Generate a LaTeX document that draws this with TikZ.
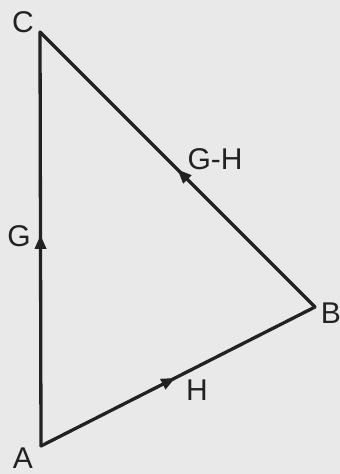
\documentclass[tikz,border=0pt]{standalone}
\usepackage{fontspec}
\setmainfont{Liberation Sans}
\usetikzlibrary{decorations.markings,arrows.meta}
\definecolor{paper}{RGB}{233,233,233}
\definecolor{ink}{RGB}{34,34,34}

\begin{document}
\begin{tikzpicture}[x=1pt,y=-1pt,
  side/.style={draw=ink, line width=3.3pt, line cap=round, line join=miter},
  midarrow/.style={postaction={decorate}, decoration={markings,
    mark=at position #1 with {\arrow{Triangle[length=14pt,width=11pt]}}}},
  lbl/.style={text=ink, font=\fontsize{30}{30}\selectfont, inner sep=0pt}]
\useasboundingbox[fill=paper] (0,0) rectangle (340,474);

\coordinate (A) at (41,446);
\coordinate (B) at (315,307);
\coordinate (C) at (40,32);

\draw[side, midarrow=0.51] (A) -- (C);
\draw[side, midarrow=0.49] (A) -- (B);
\draw[side, midarrow=0.50] (B) -- (C);

\node[lbl] (labA) at (23,458) {A};
\node[lbl] (labB) at (331,313) {B};
\node[lbl] (labC) at (23,22) {C};
\node[lbl] (labG) at (19,236) {G};
\node[lbl] (labH) at (197,390) {H};
\node[lbl] (labGH) at (215,159) {G-H};

\end{tikzpicture}
\end{document}
